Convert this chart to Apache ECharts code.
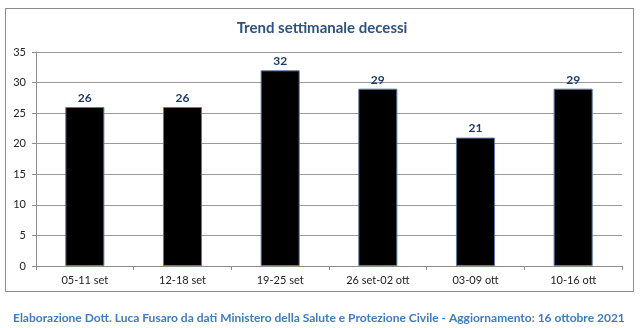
<!DOCTYPE html>
<html><head><meta charset="utf-8">
<script src="https://cdn.jsdelivr.net/npm/echarts@6/dist/echarts.min.js"></script>
<style>
html,body{margin:0;padding:0;background:#fff;}
#box{position:absolute;left:5px;top:8px;width:629px;height:284px;border:1px solid #8c8c8c;box-sizing:border-box;}
#c{position:absolute;left:0;top:0;width:644px;height:328px;}
</style></head>
<body>
<div id="box"></div>
<div id="c"></div>
<script>
const categories = ['05-11 set','12-18 set','19-25 set','26 set-02 ott','03-09 ott','10-16 ott'];
const decessi = [26, 26, 32, 29, 21, 29];
const titleText = 'Trend settimanale decessi';
const footerText = 'Elaborazione Dott. Luca Fusaro da dati Ministero della Salute e Protezione Civile - Aggiornamento: 16 ottobre 2021';

const chart = echarts.init(document.getElementById('c'), null, {renderer:'canvas'});
chart.setOption({
  animation:false,
  backgroundColor:'transparent',
  title:[{
    text:titleText, left:'center', top:16,
    textStyle:{fontFamily:'Lato, Open Sans, sans-serif', fontWeight:'bold', fontSize:15, color:'#2f5283'}
  },{
    text:footerText, left:8, top:307,
    textStyle:{fontFamily:'Lato, Open Sans, sans-serif', fontWeight:'bold', fontSize:12, color:'#3f7bc0'}
  }],
  grid:{left:36, right:22, top:52, bottom:62, containLabel:false},
  xAxis:{
    type:'category', data:categories,
    axisLine:{lineStyle:{color:'#8c8c8c'}},
    axisTick:{show:true, length:4, alignWithLabel:false, lineStyle:{color:'#8c8c8c'}},
    axisLabel:{fontFamily:'Lato, Open Sans, sans-serif', fontSize:11, color:'#222', margin:9}
  },
  yAxis:{
    type:'value', min:0, max:35, interval:5,
    axisLine:{show:true, lineStyle:{color:'#8c8c8c'}},
    axisTick:{show:true, length:4, inside:false, lineStyle:{color:'#8c8c8c'}},
    axisLabel:{fontFamily:'Lato, Open Sans, sans-serif', fontSize:11, color:'#222', margin:10},
    splitLine:{lineStyle:{color:'#9a9a9a'}}
  },
  series:[{
    type:'bar', data:decessi, barWidth:'40%',
    itemStyle:{color:'#000', borderColor:'#5a7aa8', borderWidth:1},
    label:{show:true, position:'top', distance:3,
      fontFamily:'Lato, Open Sans, sans-serif', fontWeight:'bold', fontSize:12, color:'#1f3a63'}
  }]
});
</script>
</body></html>
